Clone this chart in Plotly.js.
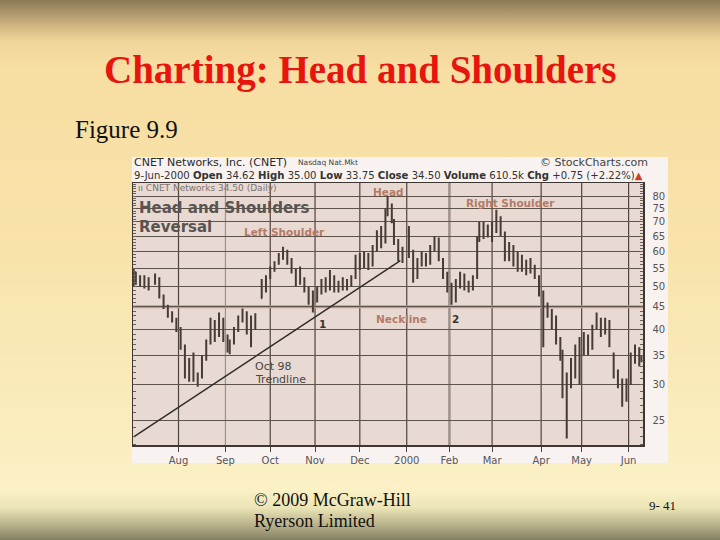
<!DOCTYPE html>
<html>
<head>
<meta charset="utf-8">
<script src="https://cdn.plot.ly/plotly-3.0.1.min.js"></script>
<style>
html,body{margin:0;padding:0;}
body{width:720px;height:540px;overflow:hidden;
background:linear-gradient(to bottom,#8a7a55 0px,#a58f66 10px,#d2b682 26px,#f1d69b 42px,#f7dea2 70px,#f8e3ab 250px,#faecbd 420px,#fbf1c6 490px,#ebe4b6 508px,#b4ae89 526px,#838060 540px);}
#chart{width:720px;height:540px;}
</style>
</head>
<body>
<div id="chart"></div>
<script>
// ---- data (CNET daily, sampled) ----
const dates = ['1999-07-01','1999-07-02','1999-07-07','1999-07-09','1999-07-13','1999-07-16','1999-07-20','1999-07-22','1999-07-26','1999-07-28','1999-07-30',
'1999-08-03','1999-08-05','1999-08-09','1999-08-11','1999-08-13','1999-08-17','1999-08-19','1999-08-23','1999-08-25','1999-08-27','1999-08-31',
'1999-09-02','1999-09-03','1999-09-08','1999-09-10','1999-09-14','1999-09-16','1999-09-20','1999-09-22','1999-09-27','1999-09-29',
'1999-10-01','1999-10-05','1999-10-07','1999-10-11','1999-10-13','1999-10-15','1999-10-19','1999-10-21','1999-10-25','1999-10-27','1999-10-29',
'1999-11-02','1999-11-04','1999-11-08','1999-11-10','1999-11-12','1999-11-16','1999-11-18','1999-11-22','1999-11-24','1999-11-29',
'1999-12-01','1999-12-03','1999-12-07','1999-12-09','1999-12-13','1999-12-15','1999-12-17','1999-12-20','1999-12-22','1999-12-23','1999-12-28','1999-12-30',
'2000-01-04','2000-01-06','2000-01-10','2000-01-12','2000-01-14','2000-01-19','2000-01-21','2000-01-25','2000-01-27','2000-01-31',
'2000-02-02','2000-02-04','2000-02-08','2000-02-10','2000-02-14','2000-02-16','2000-02-18','2000-02-22','2000-02-24','2000-02-28',
'2000-03-01','2000-03-03','2000-03-07','2000-03-09','2000-03-13','2000-03-15','2000-03-17','2000-03-21','2000-03-23','2000-03-27','2000-03-29','2000-03-31',
'2000-04-04','2000-04-06','2000-04-10','2000-04-12','2000-04-14','2000-04-17','2000-04-19','2000-04-24','2000-04-26','2000-04-28',
'2000-05-02','2000-05-04','2000-05-08','2000-05-10','2000-05-12','2000-05-16','2000-05-18','2000-05-22','2000-05-24','2000-05-26','2000-05-31',
'2000-06-02','2000-06-06','2000-06-08','2000-06-09'];
const opens = [52,53,51,52.5,50.5,51.5,52,47.5,45,43,42,
40,36.5,32,34,31,31.5,34.5,37.5,41,39,42,
38,36,37.5,40,42.5,43.5,40,41,47,50,
52.5,55,56.5,59,60,57,54.5,51,52,49,47,
48,49.5,51,49.5,52,50,51,50,51.5,52.5,
57,55.5,58.5,56,61,65,63,73,76,70,63,59,
61,59,52.5,57,58.5,56.5,61,64,57.5,53,
49.5,46.5,51,52,50,49.5,52.5,64,68,66,
67,68.5,71,66,58,61,56,58,55,56,54.5,52.5,
48,45,44,41,37.5,35.5,29,31,33,36,
35.5,38,36.5,40.5,42,40,41.5,35,32,30,28.5,
30.5,34.5,35.5,34.62];
const highs = [55,54,53,53,52.5,53.5,52.5,48,45.5,44,42.5,
40.5,37,34.5,35.5,32,35,38,42.5,42,43.7,42.5,
39,38,40.5,43,44.6,44,43,43.5,52,53,
55.5,57,59.5,61.5,60.5,58,55,55.5,52.5,50,49,
50,52,52.5,54.5,53,51.5,52.5,52,53,59,
59.5,60,59.5,62,67,68.5,75,80,77,71,64,61.5,
68.5,60.5,58,60,59.5,62,65,64.5,58,54,
51,52,54,53.5,51.5,53,65,70,70,69,
70,74.5,72,66.5,63,62,60,59,57.5,58,56,53,
49,46,44.5,43,38.5,36,32,34.5,37,38.5,
39.5,39,41,43.7,42.5,42.5,42,35.5,32.5,31,31,
35.5,37,36.5,35];
const lows = [50,50.5,50,49.5,49,50.5,47,44.5,42.5,41.5,39.5,
36,31,30.5,30.5,29.7,31,34,37,37.5,38.5,37.5,
35.5,35.2,37,39.5,41.5,39,36.5,40,47,48.5,
52,54,56,57.5,56,53.5,50,50.5,48.5,45.5,43.7,
46,48,48.5,49,48.5,48.5,49,49,50,52,
54.5,55,54.5,55.5,60,61,62.5,72,69.5,62,57,56.5,
58,51,52,55.5,55.5,56,60,57,52,48.5,
45.5,46,49.5,49,48.5,49,52,63,64,64.5,
63,66,65,57,57,55.5,54,54,53,53.5,52,47.5,
36.5,42.5,40,37,34,28,22.7,29.5,31,30,
35,35,36,40,38.5,39,36.5,31,29.5,26.8,27.5,
30,33.5,33,33.75];
const closes = [53,51,52.5,50.5,51.5,52.5,47.5,45,43,42,40,
36.5,32,34,31,31.5,34.5,37.5,41,39,42.5,38,
36,37.5,40,42.5,43.5,40,41,42,50,52.5,
55,56.5,59,60,57,54.5,51,52,49,47,48,
49.5,51,49.5,52,50,51,50,51.5,52.5,57,
55.5,58.5,56,61,65,63,73,76,70,63,59,60.5,
59,52.5,57,58.5,56.5,61,64,57.5,53,49.5,
46.5,51,52,50,49.5,52.5,64,68,66,67,
68.5,71,66,58,61,56,58,55,56,54.5,52.5,48,
45,44,41,37.5,35.5,29,31,33,36,32,
38,36.5,40.5,42,40,41.5,37,32,30,28.5,30.5,
34.5,35.5,34,34.5];

// x-axis month ticks (first trading day of month)
const monthTicks = ['1999-08-02','1999-09-01','1999-10-01','1999-11-01','1999-12-01','2000-01-03','2000-02-01','2000-03-01','2000-04-03','2000-05-01','2000-06-01'];
const monthLabels = ['Aug','Sep','Oct','Nov','Dec','2000','Feb','Mar','Apr','May','Jun'];
// y-axis price ticks
const priceTicks = [25,30,35,40,45,50,55,60,65,70,75,80];
// chart annotations
const necklinePrice = 45;
const trendDates = ['1999-07-01','1999-12-29'];
const trendPrices = [22.9, 57.2];
const holidays = ['1999-07-05','1999-09-06','1999-11-25','1999-12-24','2000-01-17','2000-02-21','2000-04-21','2000-05-29'];

// ---- layout helpers ----
const W = 720, H = 540;
const px = x => x / W;
const py = y => 1 - y / H;
const sans = 'DejaVu Sans, sans-serif';
const serif = 'Liberation Serif, Times New Roman, serif';

const traces = [
  {
    type: 'ohlc', x: dates, open: opens, high: highs, low: lows, close: closes,
    increasing: {line: {color: '#463c34', width: 2}},
    decreasing: {line: {color: '#463c34', width: 2}},
    tickwidth: 0.3, hoverinfo: 'skip', showlegend: false
  },
  {
    type: 'scatter', mode: 'lines', x: trendDates, y: trendPrices,
    line: {color: '#2e2a28', width: 1.4}, hoverinfo: 'skip', showlegend: false
  }
];

const lightMonths = ['Sep', 'Feb'];
const shapes = [
  // image frame (white area)
  {type: 'rect', xref: 'paper', yref: 'paper', x0: px(132), x1: px(668), y0: py(463), y1: py(157),
   fillcolor: '#f8f2f0', line: {width: 0}, layer: 'below'},
  // chart plotting area
  {type: 'rect', xref: 'x domain', yref: 'y domain', x0: 0, x1: 1, y0: 0, y1: 1,
   fillcolor: '#e8dad3', line: {width: 0}, layer: 'below'}
];
monthTicks.forEach((d, i) => {
  const light = lightMonths.includes(monthLabels[i]);
  shapes.push({type: 'line', xref: 'x', yref: 'y domain', x0: d, x1: d, y0: 0, y1: 1,
    line: {color: light ? '#9e908a' : '#4e443d', width: monthLabels[i] === 'Feb' ? 2.5 : 1.2}, layer: 'below'});
});
shapes.push({type: 'line', xref: 'x domain', yref: 'y', x0: 0, x1: 1, y0: necklinePrice, y1: necklinePrice,
  line: {color: '#c3988a', width: 3}, layer: 'below'});

function ann(text, x, y, size, color, opts) {
  return Object.assign({text: text, x: px(x), y: py(y), xref: 'paper', yref: 'paper',
    xanchor: 'left', yanchor: 'middle', showarrow: false,
    font: {family: sans, size: size, color: color}}, opts || {});
}
const pink = '#b47a68';
const annotations = [
  // slide texts
  ann('<b>Charting: Head and Shoulders</b>', 360, 70, 39, '#e8140e', {xanchor: 'center', font: {family: serif, size: 39, color: '#e8140e'}}),
  ann('Figure 9.9', 73, 129, 25, '#111', {font: {family: serif, size: 25, color: '#111'}}),
  ann('© 2009 McGraw-Hill', 252, 500, 18, '#111', {font: {family: serif, size: 18, color: '#111'}}),
  ann('Ryerson Limited', 252, 521, 18, '#111', {font: {family: serif, size: 18, color: '#111'}}),
  ann('9- 41', 647, 505, 13, '#111', {font: {family: serif, size: 13, color: '#111'}}),
  // stockcharts header
  ann('CNET Networks, Inc. (CNET)', 132, 163, 11, '#2a2a2a'),
  ann('Nasdaq Nat.Mkt', 296, 163, 7.5, '#444'),
  ann('© StockCharts.com', 538, 163, 11, '#444'),
  ann('9-Jun-2000 <b>Open</b> 34.62 <b>High</b> 35.00 <b>Low</b> 33.75 <b>Close</b> 34.50 <b>Volume</b> 610.5k <b>Chg</b> +0.75 (+2.22%)<span style="color:#d04020">▲</span>',
      132, 175, 10.1, '#333'),
  // chart labels
  ann('ıı CNET Networks 34.50 (Daily)', 136, 188, 9, '#7a7270'),
  ann('<b>Head and Shoulders</b>', 137, 208, 15, '#5a5450'),
  ann('<b>Reversal</b>', 137, 227, 15, '#5a5450'),
  ann('<b>Left Shoulder</b>', 242, 232, 10.5, pink),
  ann('<b>Head</b>', 371, 192, 10.5, pink),
  ann('<b>Right Shoulder</b>', 464, 203, 10.5, pink),
  ann('<b>Neckline</b>', 374, 319, 10.5, pink),
  ann('<b>1</b>', 317, 324, 10.5, '#3a3532'),
  ann('<b>2</b>', 450, 319, 10.5, '#3a3532'),
  ann('Oct 98', 253, 366, 11, '#4a4542'),
  ann('Trendline', 253, 379, 11, '#4a4542')
];

const minorTicks = [];
for (let v = 22; v <= 85; v++) minorTicks.push(v);

const layout = {
  width: W, height: H,
  margin: {l: 0, r: 0, t: 0, b: 0},
  paper_bgcolor: 'rgba(0,0,0,0)',
  plot_bgcolor: '#e8dad3',
  xaxis: {
    type: 'date', domain: [px(133), px(643)],
    range: ['1999-06-30 16:00', '2000-06-09 18:00'],
    rangebreaks: [{bounds: ['sat', 'mon']}, {values: holidays}],
    rangeslider: {visible: false},
    tickmode: 'array', tickvals: monthTicks, ticktext: monthLabels,
    ticks: 'outside', ticklen: 5, tickcolor: '#4e443d', tickwidth: 1,
    tickfont: {family: sans, size: 10, color: '#555'},
    showgrid: false, zeroline: false,
    showline: true, linecolor: '#3e3630', linewidth: 1.5, mirror: true,
    fixedrange: true
  },
  yaxis: {
    type: 'log', side: 'right', domain: [py(445), py(183)],
    range: [Math.log10(21.96), Math.log10(85.6)],
    tickmode: 'array', tickvals: priceTicks, ticktext: priceTicks.map(String),
    ticks: '', ticklabelstandoff: 6,
    tickfont: {family: sans, size: 10, color: '#555'},
    showgrid: true, gridcolor: '#5e534b', gridwidth: 1,
    minor: {tickmode: 'array', tickvals: minorTicks, ticks: 'inside', ticklen: 3, tickcolor: '#6a5e56', showgrid: false},
    showline: true, linecolor: '#3e3630', linewidth: 1.5, mirror: 'ticks',
    zeroline: false, fixedrange: true
  },
  shapes: shapes,
  annotations: annotations,
  showlegend: false
};

Plotly.newPlot('chart', traces, layout, {displayModeBar: false, staticPlot: true});
</script>
</body>
</html>
